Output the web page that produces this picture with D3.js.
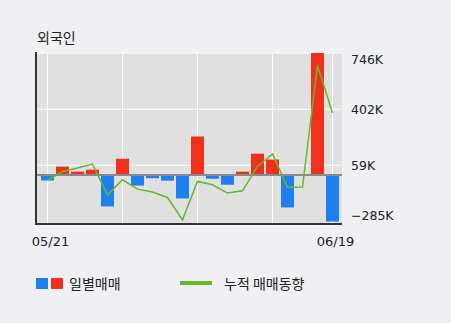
<!DOCTYPE html>
<html>
<head>
<meta charset="utf-8">
<script src="https://cdn.jsdelivr.net/npm/d3@7"></script>
<style>
  html, body { margin: 0; padding: 0; background: #eef0f3; }
  svg { display: block; }
</style>
</head>
<body>
<svg id="chart" width="451" height="323"></svg>
<script>
// trading days shown on the chart
const dates = ["05/21","05/22","05/23","05/26","05/27","05/28","05/29","05/30","06/02","06/03",
               "06/05","06/09","06/10","06/11","06/12","06/13","06/16","06/17","06/18","06/19"];
// daily net buying (K shares)
const daily = [-34, 51, 20, 32, -193, 99, -65, -20, -35, -144,
               235, -23, -60, 20, 130, 94, -199, 0, 746, -285];
// cumulative trend line (K, read on the same axis)
const cumulative = [-34, 21, 42, 66, -122, -30, -87, -105, -138, -275,
                    -40, -60, -111, -97, 52, 128, -76, -74, 670, 379];
const yTicks = [746, 402, 59, -285];
const xLabels = ["05/21", "06/19"];
const gridDates = ["05/21", "05/28", "06/05", "06/13", "06/19"];

const svg = d3.select("#chart");
const plot = { left: 37, right: 342, top: 53, bottom: 224 };

const x = d3.scaleBand()
    .domain(dates)
    .range([40, 340])
    .paddingInner(2 / 15)
    .paddingOuter(1 / 15);
const cx = d => x(d) + x.bandwidth() / 2;

const y = d3.scaleLinear()
    .domain([d3.min(yTicks), d3.max(yTicks)])
    .range([221.5, plot.top]);

// plot background
svg.append("rect")
    .attr("x", plot.left)
    .attr("y", plot.top)
    .attr("width", plot.right - plot.left)
    .attr("height", plot.bottom - plot.top)
    .attr("fill", "#e0e0e0");

// grid
svg.selectAll(".hgrid")
    .data(yTicks.slice(0, 3))
    .join("line")
    .attr("x1", plot.left).attr("x2", plot.right)
    .attr("y1", d => y(d)).attr("y2", d => y(d))
    .attr("stroke", "#fff").attr("stroke-width", 1);

svg.selectAll(".vgrid")
    .data(gridDates)
    .join("line")
    .attr("x1", d => cx(d)).attr("x2", d => cx(d))
    .attr("y1", plot.top).attr("y2", plot.bottom)
    .attr("stroke", "#fff").attr("stroke-width", 1);

// bars
svg.selectAll(".bar")
    .data(dates.map((d, i) => ({ date: d, v: daily[i] })))
    .join("rect")
    .attr("x", d => x(d.date))
    .attr("width", x.bandwidth())
    .attr("y", d => Math.min(y(d.v), y(0)))
    .attr("height", d => Math.abs(y(d.v) - y(0)))
    .attr("fill", d => d.v >= 0 ? "#f0301c" : "#1e7ff0");

// zero line
svg.append("line")
    .attr("x1", plot.left).attr("x2", plot.right)
    .attr("y1", y(0)).attr("y2", y(0))
    .attr("stroke", "#8a8a8a").attr("stroke-width", 2);

// cumulative line
svg.append("path")
    .datum(cumulative)
    .attr("fill", "none")
    .attr("stroke", "#66b82a")
    .attr("stroke-width", 1.5)
    .attr("d", d3.line().x((d, i) => cx(dates[i])).y(d => y(d)));

// axes lines
svg.append("line")
    .attr("x1", 36).attr("x2", 36)
    .attr("y1", plot.top - 1).attr("y2", plot.bottom + 1)
    .attr("stroke", "#333").attr("stroke-width", 2);
svg.append("line")
    .attr("x1", 35).attr("x2", plot.right)
    .attr("y1", plot.bottom).attr("y2", plot.bottom)
    .attr("stroke", "#333").attr("stroke-width", 2);

// y tick labels (end labels pulled inward)
const fmt = v => (v < 0 ? "\u2212" + Math.abs(v) : v) + "K";
svg.selectAll(".ylab")
    .data(yTicks)
    .join("text")
    .attr("x", 351)
    .attr("y", (d, i) => y(d) + (i === 0 ? 6 : i === yTicks.length - 1 ? -6.5 : 0))
    .attr("dy", "0.36em")
    .attr("font-family", "DejaVu Sans")
    .attr("font-size", 12.5)
    .attr("fill", "#222")
    .text(fmt);

// x labels
svg.selectAll(".xlab")
    .data(xLabels)
    .join("text")
    .attr("x", d => cx(d) + 3)
    .attr("y", 246)
    .attr("text-anchor", "middle")
    .attr("font-family", "DejaVu Sans")
    .attr("font-size", 13)
    .attr("fill", "#222")
    .text(d => d);

// title
svg.append("text")
    .attr("x", 37).attr("y", 43)
    .attr("font-family", "Noto Sans CJK KR")
    .attr("font-size", 14)
    .attr("fill", "#222")
    .text("외국인");

// legend
svg.append("rect").attr("x", 36).attr("y", 278).attr("width", 12).attr("height", 11).attr("fill", "#1e7ff0");
svg.append("rect").attr("x", 51).attr("y", 278).attr("width", 12).attr("height", 11).attr("fill", "#f0301c");
svg.append("text")
    .attr("x", 69).attr("y", 288.5)
    .attr("font-family", "Noto Sans CJK KR")
    .attr("font-size", 14)
    .attr("fill", "#222")
    .text("일별매매");
svg.append("line")
    .attr("x1", 180).attr("x2", 212)
    .attr("y1", 283).attr("y2", 283)
    .attr("stroke", "#66b82a").attr("stroke-width", 4);
svg.append("text")
    .attr("x", 224).attr("y", 288.5)
    .attr("font-family", "Noto Sans CJK KR")
    .attr("font-size", 14)
    .attr("fill", "#222")
    .text("누적 매매동향");
</script>
</body>
</html>
